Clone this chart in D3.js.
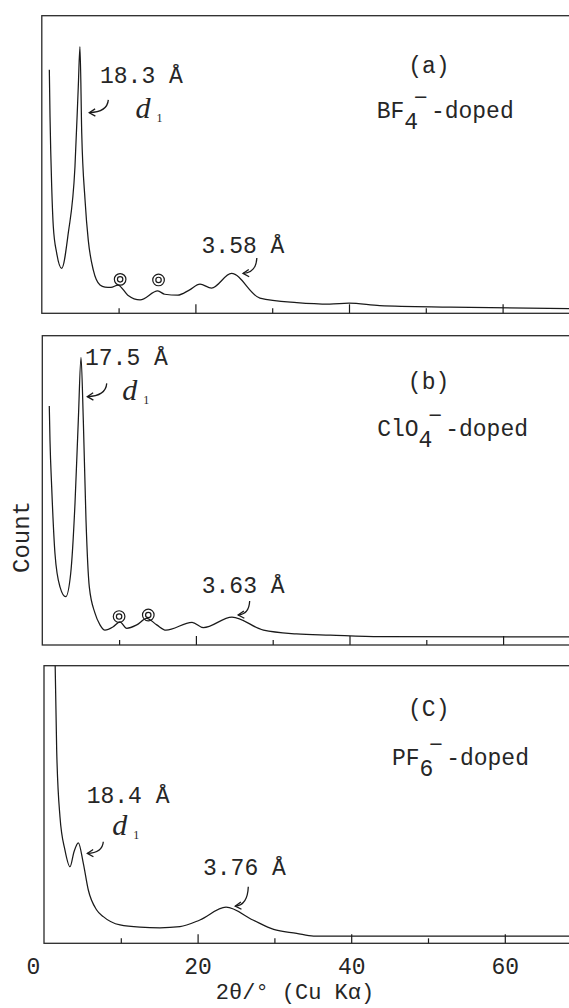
<!DOCTYPE html>
<html>
<head>
<meta charset="utf-8">
<script src="https://cdn.jsdelivr.net/npm/d3@7.9.0/dist/d3.min.js"></script>
<style>
  body { margin: 0; background: #fff; }
  svg { display: block; }
  text { fill: #262626; }
</style>
</head>
<body>
<svg id="chart" width="569" height="1008"></svg>
<script>
// 2θ (deg) and relative counts (0 = baseline, 100 = top of frame)
const thetaA = [0.98, 1.07, 1.29, 1.5, 1.94, 2.59, 3.45, 4.32, 4.75, 4.97, 5.2, 5.63, 6.05, 6.71, 7.58, 8.23, 9.0, 9.92, 11.2, 12.8, 15.1, 16.0, 17.7, 19.2, 20.6, 22.1, 24.7, 28.4, 33.2, 37.5, 40.0, 44.0, 53.2, 69];
const countA = [81.8, 66.1, 42.5, 29.1, 20.2, 15.1, 27.0, 49.3, 76.1, 89.6, 60.5, 38.1, 24.6, 14.5, 9.5, 8.8, 8.7, 9.5, 6.1, 4.5, 7.5, 6.4, 6.1, 7.8, 9.8, 8.5, 13.4, 5.1, 3.6, 3.1, 3.4, 2.6, 2.1, 1.6];

const thetaB = [0.91, 1.0, 1.22, 1.65, 2.3, 3.05, 3.7, 4.26, 4.69, 5.04, 5.34, 5.69, 6.12, 6.86, 7.51, 8.16, 9.24, 10.1, 11.0, 12.3, 13.6, 14.9, 16.1, 19.5, 20.97, 24.7, 28.8, 33.1, 37.5, 44.0, 69];
const countB = [77.3, 66.3, 51.2, 29.6, 18.8, 15.6, 23.2, 45.9, 72.7, 93.0, 72.7, 40.4, 18.8, 10.3, 6.5, 4.8, 5.9, 7.5, 5.4, 6.5, 8.6, 6.5, 4.8, 7.3, 5.6, 9.0, 4.8, 3.6, 3.2, 2.7, 2.6];

const thetaC = [1.3, 1.65, 2.08, 2.73, 3.39, 3.9, 4.47, 5.12, 5.77, 6.86, 7.72, 9.9, 12.5, 15.1, 17.7, 20.3, 23.7, 27.2, 29.9, 32.9, 35.1, 69];
const countC = [124, 69.6, 45.6, 33.6, 27.6, 32.9, 36.2, 28.8, 19.2, 12.0, 9.6, 6.6, 5.8, 5.6, 6.0, 8.4, 13.0, 8.4, 5.0, 3.6, 2.6, 2.6];

const majorTicks = [20, 40, 60];
const minorTicks = [10, 30, 50];
const tickLabels = [0, 20, 40, 60];

const panelTags = ['(a)', '(b)', '(C)'];
const anionNames = ['BF', 'ClO', 'PF'];
const anionSubs = ['4', '4', '6'];
const d1Labels = ['18.3 Å', '17.5 Å', '18.4 Å'];
const wideLabels = ['3.58 Å', '3.63 Å', '3.76 Å'];

// annotation anchors in data units [2θ, count]
const tagPos = [[47.7, 80.7], [47.6, 82.8], [47.4, 81.7]];
const anionPos = [[43.6, 65.6], [43.6, 67.6], [45.3, 64.2]];
const d1LabelPos = [[7.58, 77.4], [5.56, 90.5], [5.56, 50.4]];
const d1ArrowFrom = [[8.66, 71.7], [8.39, 84.6], [7.72, 36.6]];
const d1ArrowTo = [[6.18, 67.4], [5.86, 80.3], [5.64, 32.4]];
const dSymPos = [[12.2, 65.6], [10.4, 79.2], [8.9, 39.0]];
const wideLabelPos = [[20.8, 20.3], [20.76, 16.7], [20.7, 24.6]];
const wideArrowFrom = [[28.0, 18.6], [27.0, 14.2], [26.6, 20.4]];
const wideArrowTo = [[26.2, 13.4], [25.5, 9.7], [24.9, 13.4]];
const ringPos = [[[10.2, 11.4], [15.2, 11.2]], [[10.0, 9.2], [13.8, 9.7]], []];

const series = [
  { theta: thetaA, count: countA },
  { theta: thetaB, count: countB },
  { theta: thetaC, count: countC },
];

// frame of each panel in the page
const frames = [
  { left: 41.8, top: 15.7, bottom: 313.3 },
  { left: 42.3, top: 335.7, bottom: 645 },
  { left: 44, top: 665.7, bottom: 943.3 },
];

const mono = '"Liberation Mono", "Courier New", monospace';
const serif = '"Liberation Serif", "Times New Roman", serif';
const ink = '#1a1a1a';

const svg = d3.select('#chart');
const x = d3.scaleLinear().domain([0, 70]).range([0, 70 * 7.68]);
const plotW = x(70);

// little hooked arrow used for the peak labels
function arrow(g, p0, p1) {
  const [x0, y0] = p0;
  const [x1, y1] = p1;
  const cx = x0 - (x0 - x1) * 0.05;
  const cy = y0 + (y1 - y0) * 0.95;
  g.append('path')
    .attr('d', `M${x0},${y0} Q${cx},${cy} ${x1},${y1}`)
    .attr('fill', 'none').attr('stroke', ink).attr('stroke-width', 1.3);
  const ang = Math.atan2(y1 - cy, x1 - cx);
  const L = 7;
  const head = [ang + Math.PI - 0.55, ang + Math.PI + 0.55].map(a => [x1 + L * Math.cos(a), y1 + L * Math.sin(a)]);
  g.append('path')
    .attr('d', `M${head[0][0]},${head[0][1]} L${x1},${y1} L${head[1][0]},${head[1][1]}`)
    .attr('fill', 'none').attr('stroke', ink).attr('stroke-width', 1.3);
}

frames.forEach((f, i) => {
  const h = f.bottom - f.top;
  const y = d3.scaleLinear().domain([0, 100]).range([h, 0]);
  const g = svg.append('g').attr('transform', `translate(${f.left},${f.top})`);

  g.append('clipPath').attr('id', 'clip' + i)
    .append('rect').attr('width', plotW).attr('height', h);

  // ticks pointing into the frame
  g.append('g').attr('transform', `translate(0,${h})`)
    .call(d3.axisBottom(x).tickValues(majorTicks).tickSize(-9).tickFormat(''))
    .call(a => a.select('.domain').remove())
    .call(a => a.selectAll('line').attr('stroke', ink).attr('stroke-width', 1.2));
  g.append('g').attr('transform', `translate(0,${h})`)
    .call(d3.axisBottom(x).tickValues(minorTicks).tickSize(-5).tickFormat(''))
    .call(a => a.select('.domain').remove())
    .call(a => a.selectAll('line').attr('stroke', ink).attr('stroke-width', 1.2));

  g.append('rect')
    .attr('width', plotW).attr('height', h)
    .attr('fill', 'none').attr('stroke', '#2a2a2a').attr('stroke-width', 1.3);

  const s = series[i];
  const pts = s.theta.map((t, k) => [t, s.count[k]]);
  g.append('path')
    .datum(pts)
    .attr('clip-path', `url(#clip${i})`)
    .attr('fill', 'none')
    .attr('stroke', ink)
    .attr('stroke-width', 1.25)
    .attr('d', d3.line().x(d => x(d[0])).y(d => y(d[1])).curve(d3.curveMonotoneX));

  const P = p => [x(p[0]), y(p[1])];

  // panel tag and dopant
  const tp = P(tagPos[i]);
  g.append('text').attr('x', tp[0]).attr('y', tp[1])
    .attr('font-family', mono).attr('font-size', 23).text(panelTags[i]);

  const ap = P(anionPos[i]);
  const an = g.append('text').attr('x', ap[0]).attr('y', ap[1])
    .attr('font-family', mono).attr('font-size', 23);
  an.append('tspan').text(anionNames[i]);
  an.append('tspan').attr('dy', 11).text(anionSubs[i]);
  an.append('tspan').attr('dx', -4).attr('dy', -24).text('−');
  an.append('tspan').attr('dx', 3).attr('dy', 13).text('-doped');

  // d1 reflection
  const lp = P(d1LabelPos[i]);
  g.append('text').attr('x', lp[0]).attr('y', lp[1])
    .attr('font-family', mono).attr('font-size', 23).text(d1Labels[i]);
  arrow(g, P(d1ArrowFrom[i]), P(d1ArrowTo[i]));
  const dp = P(dSymPos[i]);
  const dt = g.append('text').attr('x', dp[0]).attr('y', dp[1])
    .attr('font-family', serif);
  dt.append('tspan').attr('font-style', 'italic').attr('font-size', 30).text('d');
  dt.append('tspan').attr('font-size', 12).attr('dx', 6).attr('dy', 4).text('1');

  // wide-angle halo
  const wp = P(wideLabelPos[i]);
  g.append('text').attr('x', wp[0]).attr('y', wp[1])
    .attr('font-family', mono).attr('font-size', 23).text(wideLabels[i]);
  arrow(g, P(wideArrowFrom[i]), P(wideArrowTo[i]));

  // ◎ marks
  ringPos[i].forEach(r => {
    const c = P(r);
    g.append('circle').attr('cx', c[0]).attr('cy', c[1]).attr('r', 5.8)
      .attr('fill', 'none').attr('stroke', ink).attr('stroke-width', 1.2);
    g.append('circle').attr('cx', c[0]).attr('cy', c[1]).attr('r', 2.7)
      .attr('fill', 'none').attr('stroke', ink).attr('stroke-width', 1.2);
  });

  if (i === 2) {
    g.append('g').attr('transform', `translate(0,${h})`)
      .call(d3.axisBottom(x).tickValues(tickLabels).tickSize(0).tickPadding(14))
      .call(a => a.select('.domain').remove())
      .call(a => a.selectAll('text')
        .attr('font-family', mono).attr('font-size', 23).attr('fill', '#262626')
        .attr('dx', d => d === 0 ? -11 : 0));
  }
});

// shared axis titles
svg.append('text')
  .attr('transform', 'translate(29,537) rotate(-90)')
  .attr('text-anchor', 'middle')
  .attr('font-family', mono).attr('font-size', 24)
  .text('Count');

svg.append('text')
  .attr('x', 295).attr('y', 999)
  .attr('text-anchor', 'middle')
  .attr('font-family', mono).attr('font-size', 22)
  .text('2θ/° (Cu Kα)');
</script>
</body>
</html>
